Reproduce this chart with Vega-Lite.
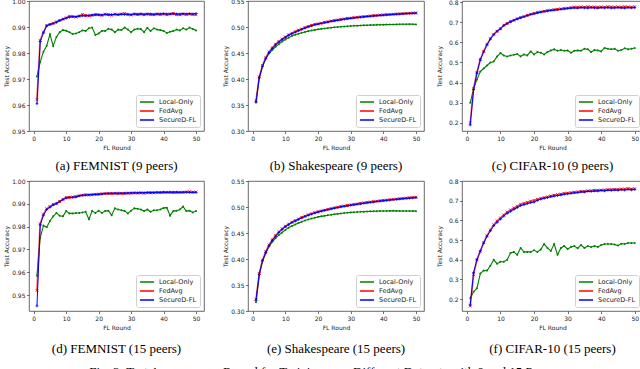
{
"$schema":"https://vega.github.io/schema/vega-lite/v6.json",
"padding":{"left":2,"top":-3,"right":0,"bottom":0},
"config":{
 "view":{"stroke":"#444","strokeWidth":0.8},
 "axis":{"labelFont":"DejaVu Sans","labelFontSize":6,"titleFont":"DejaVu Sans","titleFontSize":6,"titleFontWeight":"normal","tickSize":2.5,"tickWidth":0.7,"tickColor":"#333","labelColor":"#222","titleColor":"#222","domain":false,"grid":false,"labelPadding":1.5,"titlePadding":3},
 "axisY":{"minExtent":17,"maxExtent":17},
 "legend":{"orient":"bottom-right","offset":4,"fillColor":"white","strokeColor":"#d0d0d0","cornerRadius":2,"padding":3,"symbolType":"stroke","symbolSize":200,"symbolStrokeWidth":1.5,"labelFont":"DejaVu Sans","labelFontSize":6.5,"labelColor":"#222","rowPadding":1,"clipHeight":8,"labelOffset":4},
 "title":{"font":"Liberation Serif","fontSize":13,"fontWeight":"normal","color":"#000","orient":"bottom","offset":10,"anchor":"middle"}
},
"title":{"text":"Fig. 3: Test Accuracy per Round for Training over Different Datasets with 9 and 15 Peers.","orient":"bottom","offset":10,"fontSize":13},
"datasets":{
"a":[
{"s":"L","x":1,"y":0.971},{"s":"L","x":2,"y":0.9765},{"s":"L","x":3,"y":0.9805},{"s":"L","x":4,"y":0.9828},{"s":"L","x":5,"y":0.9872},{"s":"L","x":6,"y":0.9827},{"s":"L","x":7,"y":0.9862},{"s":"L","x":8,"y":0.988},{"s":"L","x":9,"y":0.9888},{"s":"L","x":10,"y":0.9886},
{"s":"L","x":11,"y":0.988},{"s":"L","x":12,"y":0.9873},{"s":"L","x":13,"y":0.9875},{"s":"L","x":14,"y":0.988},{"s":"L","x":15,"y":0.9887},{"s":"L","x":16,"y":0.9885},{"s":"L","x":17,"y":0.9895},{"s":"L","x":18,"y":0.9898},{"s":"L","x":19,"y":0.9869},{"s":"L","x":20,"y":0.9875},
{"s":"L","x":21,"y":0.9885},{"s":"L","x":22,"y":0.9885},{"s":"L","x":23,"y":0.9893},{"s":"L","x":24,"y":0.989},{"s":"L","x":25,"y":0.988},{"s":"L","x":26,"y":0.989},{"s":"L","x":27,"y":0.9888},{"s":"L","x":28,"y":0.9898},{"s":"L","x":29,"y":0.989},{"s":"L","x":30,"y":0.988},
{"s":"L","x":31,"y":0.989},{"s":"L","x":32,"y":0.9893},{"s":"L","x":33,"y":0.9892},{"s":"L","x":34,"y":0.988},{"s":"L","x":35,"y":0.9897},{"s":"L","x":36,"y":0.9885},{"s":"L","x":37,"y":0.9895},{"s":"L","x":38,"y":0.989},{"s":"L","x":39,"y":0.9888},{"s":"L","x":40,"y":0.9885},
{"s":"L","x":41,"y":0.9877},{"s":"L","x":42,"y":0.9882},{"s":"L","x":43,"y":0.9885},{"s":"L","x":44,"y":0.989},{"s":"L","x":45,"y":0.9887},{"s":"L","x":46,"y":0.9895},{"s":"L","x":47,"y":0.989},{"s":"L","x":48,"y":0.9898},{"s":"L","x":49,"y":0.9892},{"s":"L","x":50,"y":0.9887},
{"s":"F","x":1,"y":0.962},{"s":"F","x":2,"y":0.9848},{"s":"F","x":3,"y":0.988},{"s":"F","x":4,"y":0.9905},{"s":"F","x":5,"y":0.991},{"s":"F","x":6,"y":0.9915},{"s":"F","x":7,"y":0.992},{"s":"F","x":8,"y":0.9925},{"s":"F","x":9,"y":0.993},{"s":"F","x":10,"y":0.9935},
{"s":"F","x":11,"y":0.9942},{"s":"F","x":12,"y":0.994},{"s":"F","x":13,"y":0.9938},{"s":"F","x":14,"y":0.9942},{"s":"F","x":15,"y":0.9948},{"s":"F","x":16,"y":0.9945},{"s":"F","x":17,"y":0.9942},{"s":"F","x":18,"y":0.9945},{"s":"F","x":19,"y":0.9948},{"s":"F","x":20,"y":0.9947},
{"s":"F","x":21,"y":0.9945},{"s":"F","x":22,"y":0.995},{"s":"F","x":23,"y":0.9948},{"s":"F","x":24,"y":0.9945},{"s":"F","x":25,"y":0.995},{"s":"F","x":26,"y":0.9947},{"s":"F","x":27,"y":0.995},{"s":"F","x":28,"y":0.9952},{"s":"F","x":29,"y":0.9948},{"s":"F","x":30,"y":0.9946},
{"s":"F","x":31,"y":0.995},{"s":"F","x":32,"y":0.9948},{"s":"F","x":33,"y":0.995},{"s":"F","x":34,"y":0.9947},{"s":"F","x":35,"y":0.995},{"s":"F","x":36,"y":0.9948},{"s":"F","x":37,"y":0.9947},{"s":"F","x":38,"y":0.995},{"s":"F","x":39,"y":0.9948},{"s":"F","x":40,"y":0.995},
{"s":"F","x":41,"y":0.9947},{"s":"F","x":42,"y":0.995},{"s":"F","x":43,"y":0.9952},{"s":"F","x":44,"y":0.9948},{"s":"F","x":45,"y":0.9947},{"s":"F","x":46,"y":0.995},{"s":"F","x":47,"y":0.9948},{"s":"F","x":48,"y":0.995},{"s":"F","x":49,"y":0.9948},{"s":"F","x":50,"y":0.9947},
{"s":"S","x":1,"y":0.9605},{"s":"S","x":2,"y":0.9845},{"s":"S","x":3,"y":0.9878},{"s":"S","x":4,"y":0.9905},{"s":"S","x":5,"y":0.991},{"s":"S","x":6,"y":0.9913},{"s":"S","x":7,"y":0.9918},{"s":"S","x":8,"y":0.9925},{"s":"S","x":9,"y":0.993},{"s":"S","x":10,"y":0.9934},
{"s":"S","x":11,"y":0.9938},{"s":"S","x":12,"y":0.994},{"s":"S","x":13,"y":0.994},{"s":"S","x":14,"y":0.9942},{"s":"S","x":15,"y":0.9943},{"s":"S","x":16,"y":0.9943},{"s":"S","x":17,"y":0.9945},{"s":"S","x":18,"y":0.9946},{"s":"S","x":19,"y":0.9947},{"s":"S","x":20,"y":0.9947},
{"s":"S","x":21,"y":0.9946},{"s":"S","x":22,"y":0.9948},{"s":"S","x":23,"y":0.9947},{"s":"S","x":24,"y":0.9948},{"s":"S","x":25,"y":0.9948},{"s":"S","x":26,"y":0.9948},{"s":"S","x":27,"y":0.9949},{"s":"S","x":28,"y":0.9948},{"s":"S","x":29,"y":0.9949},{"s":"S","x":30,"y":0.9948},
{"s":"S","x":31,"y":0.995},{"s":"S","x":32,"y":0.9949},{"s":"S","x":33,"y":0.995},{"s":"S","x":34,"y":0.9949},{"s":"S","x":35,"y":0.995},{"s":"S","x":36,"y":0.995},{"s":"S","x":37,"y":0.9949},{"s":"S","x":38,"y":0.995},{"s":"S","x":39,"y":0.995},{"s":"S","x":40,"y":0.9951},
{"s":"S","x":41,"y":0.995},{"s":"S","x":42,"y":0.995},{"s":"S","x":43,"y":0.9951},{"s":"S","x":44,"y":0.995},{"s":"S","x":45,"y":0.995},{"s":"S","x":46,"y":0.9951},{"s":"S","x":47,"y":0.995},{"s":"S","x":48,"y":0.9951},{"s":"S","x":49,"y":0.995},{"s":"S","x":50,"y":0.9952}
],
"b":[
{"s":"L","x":1,"y":0.355},{"s":"L","x":2,"y":0.402},{"s":"L","x":3,"y":0.424},{"s":"L","x":4,"y":0.439},{"s":"L","x":5,"y":0.449},{"s":"L","x":6,"y":0.456},{"s":"L","x":7,"y":0.462},{"s":"L","x":8,"y":0.467},{"s":"L","x":9,"y":0.472},{"s":"L","x":10,"y":0.476},
{"s":"L","x":11,"y":0.4795},{"s":"L","x":12,"y":0.4825},{"s":"L","x":13,"y":0.485},{"s":"L","x":14,"y":0.4872},{"s":"L","x":15,"y":0.489},{"s":"L","x":16,"y":0.4905},{"s":"L","x":17,"y":0.492},{"s":"L","x":18,"y":0.4932},{"s":"L","x":19,"y":0.4944},{"s":"L","x":20,"y":0.4955},
{"s":"L","x":21,"y":0.4964},{"s":"L","x":22,"y":0.4972},{"s":"L","x":23,"y":0.498},{"s":"L","x":24,"y":0.4987},{"s":"L","x":25,"y":0.4994},{"s":"L","x":26,"y":0.5},{"s":"L","x":27,"y":0.5005},{"s":"L","x":28,"y":0.501},{"s":"L","x":29,"y":0.5015},{"s":"L","x":30,"y":0.502},
{"s":"L","x":31,"y":0.5023},{"s":"L","x":32,"y":0.5026},{"s":"L","x":33,"y":0.5029},{"s":"L","x":34,"y":0.5032},{"s":"L","x":35,"y":0.5035},{"s":"L","x":36,"y":0.5037},{"s":"L","x":37,"y":0.5039},{"s":"L","x":38,"y":0.5041},{"s":"L","x":39,"y":0.5043},{"s":"L","x":40,"y":0.5045},
{"s":"L","x":41,"y":0.5046},{"s":"L","x":42,"y":0.5048},{"s":"L","x":43,"y":0.5049},{"s":"L","x":44,"y":0.505},{"s":"L","x":45,"y":0.5052},{"s":"L","x":46,"y":0.5053},{"s":"L","x":47,"y":0.5054},{"s":"L","x":48,"y":0.5055},{"s":"L","x":49,"y":0.5052},{"s":"L","x":50,"y":0.505},
{"s":"F","x":1,"y":0.358},{"s":"F","x":2,"y":0.404},{"s":"F","x":3,"y":0.426},{"s":"F","x":4,"y":0.441},{"s":"F","x":5,"y":0.452},{"s":"F","x":6,"y":0.46},{"s":"F","x":7,"y":0.467},{"s":"F","x":8,"y":0.472},{"s":"F","x":9,"y":0.477},{"s":"F","x":10,"y":0.481},
{"s":"F","x":11,"y":0.485},{"s":"F","x":12,"y":0.488},{"s":"F","x":13,"y":0.491},{"s":"F","x":14,"y":0.494},{"s":"F","x":15,"y":0.496},{"s":"F","x":16,"y":0.499},{"s":"F","x":17,"y":0.501},{"s":"F","x":18,"y":0.503},{"s":"F","x":19,"y":0.505},{"s":"F","x":20,"y":0.506},
{"s":"F","x":21,"y":0.5075},{"s":"F","x":22,"y":0.509},{"s":"F","x":23,"y":0.51},{"s":"F","x":24,"y":0.5115},{"s":"F","x":25,"y":0.5125},{"s":"F","x":26,"y":0.5135},{"s":"F","x":27,"y":0.5145},{"s":"F","x":28,"y":0.5155},{"s":"F","x":29,"y":0.5165},{"s":"F","x":30,"y":0.5172},
{"s":"F","x":31,"y":0.518},{"s":"F","x":32,"y":0.5187},{"s":"F","x":33,"y":0.5194},{"s":"F","x":34,"y":0.52},{"s":"F","x":35,"y":0.5206},{"s":"F","x":36,"y":0.5212},{"s":"F","x":37,"y":0.5218},{"s":"F","x":38,"y":0.5223},{"s":"F","x":39,"y":0.5228},{"s":"F","x":40,"y":0.5233},
{"s":"F","x":41,"y":0.5238},{"s":"F","x":42,"y":0.5242},{"s":"F","x":43,"y":0.5246},{"s":"F","x":44,"y":0.525},{"s":"F","x":45,"y":0.5254},{"s":"F","x":46,"y":0.5258},{"s":"F","x":47,"y":0.5262},{"s":"F","x":48,"y":0.5265},{"s":"F","x":49,"y":0.5268},{"s":"F","x":50,"y":0.527},
{"s":"S","x":1,"y":0.356},{"s":"S","x":2,"y":0.403},{"s":"S","x":3,"y":0.425},{"s":"S","x":4,"y":0.44},{"s":"S","x":5,"y":0.451},{"s":"S","x":6,"y":0.459},{"s":"S","x":7,"y":0.466},{"s":"S","x":8,"y":0.471},{"s":"S","x":9,"y":0.476},{"s":"S","x":10,"y":0.48},
{"s":"S","x":11,"y":0.484},{"s":"S","x":12,"y":0.487},{"s":"S","x":13,"y":0.49},{"s":"S","x":14,"y":0.493},{"s":"S","x":15,"y":0.4955},{"s":"S","x":16,"y":0.498},{"s":"S","x":17,"y":0.5005},{"s":"S","x":18,"y":0.5025},{"s":"S","x":19,"y":0.5045},{"s":"S","x":20,"y":0.5057},
{"s":"S","x":21,"y":0.507},{"s":"S","x":22,"y":0.5085},{"s":"S","x":23,"y":0.5096},{"s":"S","x":24,"y":0.511},{"s":"S","x":25,"y":0.512},{"s":"S","x":26,"y":0.513},{"s":"S","x":27,"y":0.514},{"s":"S","x":28,"y":0.515},{"s":"S","x":29,"y":0.516},{"s":"S","x":30,"y":0.5168},
{"s":"S","x":31,"y":0.5176},{"s":"S","x":32,"y":0.5183},{"s":"S","x":33,"y":0.519},{"s":"S","x":34,"y":0.5196},{"s":"S","x":35,"y":0.5202},{"s":"S","x":36,"y":0.5208},{"s":"S","x":37,"y":0.5214},{"s":"S","x":38,"y":0.5219},{"s":"S","x":39,"y":0.5224},{"s":"S","x":40,"y":0.5229},
{"s":"S","x":41,"y":0.5234},{"s":"S","x":42,"y":0.5238},{"s":"S","x":43,"y":0.5242},{"s":"S","x":44,"y":0.5246},{"s":"S","x":45,"y":0.525},{"s":"S","x":46,"y":0.5254},{"s":"S","x":47,"y":0.5258},{"s":"S","x":48,"y":0.5261},{"s":"S","x":49,"y":0.5264},{"s":"S","x":50,"y":0.5267}
],
"c":[
{"s":"L","x":1,"y":0.3},{"s":"L","x":2,"y":0.37},{"s":"L","x":3,"y":0.415},{"s":"L","x":4,"y":0.455},{"s":"L","x":5,"y":0.47},{"s":"L","x":6,"y":0.485},{"s":"L","x":7,"y":0.5},{"s":"L","x":8,"y":0.505},{"s":"L","x":9,"y":0.53},{"s":"L","x":10,"y":0.547},
{"s":"L","x":11,"y":0.535},{"s":"L","x":12,"y":0.53},{"s":"L","x":13,"y":0.535},{"s":"L","x":14,"y":0.538},{"s":"L","x":15,"y":0.542},{"s":"L","x":16,"y":0.53},{"s":"L","x":17,"y":0.54},{"s":"L","x":18,"y":0.535},{"s":"L","x":19,"y":0.555},{"s":"L","x":20,"y":0.54},
{"s":"L","x":21,"y":0.552},{"s":"L","x":22,"y":0.548},{"s":"L","x":23,"y":0.54},{"s":"L","x":24,"y":0.552},{"s":"L","x":25,"y":0.56},{"s":"L","x":26,"y":0.565},{"s":"L","x":27,"y":0.558},{"s":"L","x":28,"y":0.562},{"s":"L","x":29,"y":0.558},{"s":"L","x":30,"y":0.56},
{"s":"L","x":31,"y":0.548},{"s":"L","x":32,"y":0.558},{"s":"L","x":33,"y":0.56},{"s":"L","x":34,"y":0.558},{"s":"L","x":35,"y":0.568},{"s":"L","x":36,"y":0.565},{"s":"L","x":37,"y":0.552},{"s":"L","x":38,"y":0.562},{"s":"L","x":39,"y":0.56},{"s":"L","x":40,"y":0.555},
{"s":"L","x":41,"y":0.572},{"s":"L","x":42,"y":0.568},{"s":"L","x":43,"y":0.565},{"s":"L","x":44,"y":0.568},{"s":"L","x":45,"y":0.558},{"s":"L","x":46,"y":0.562},{"s":"L","x":47,"y":0.57},{"s":"L","x":48,"y":0.566},{"s":"L","x":49,"y":0.568},{"s":"L","x":50,"y":0.572},
{"s":"F","x":1,"y":0.2},{"s":"F","x":2,"y":0.37},{"s":"F","x":3,"y":0.45},{"s":"F","x":4,"y":0.515},{"s":"F","x":5,"y":0.555},{"s":"F","x":6,"y":0.59},{"s":"F","x":7,"y":0.618},{"s":"F","x":8,"y":0.64},{"s":"F","x":9,"y":0.655},{"s":"F","x":10,"y":0.668},
{"s":"F","x":11,"y":0.685},{"s":"F","x":12,"y":0.694},{"s":"F","x":13,"y":0.703},{"s":"F","x":14,"y":0.71},{"s":"F","x":15,"y":0.717},{"s":"F","x":16,"y":0.723},{"s":"F","x":17,"y":0.728},{"s":"F","x":18,"y":0.734},{"s":"F","x":19,"y":0.74},{"s":"F","x":20,"y":0.744},
{"s":"F","x":21,"y":0.748},{"s":"F","x":22,"y":0.751},{"s":"F","x":23,"y":0.754},{"s":"F","x":24,"y":0.757},{"s":"F","x":25,"y":0.76},{"s":"F","x":26,"y":0.762},{"s":"F","x":27,"y":0.764},{"s":"F","x":28,"y":0.766},{"s":"F","x":29,"y":0.768},{"s":"F","x":30,"y":0.77},
{"s":"F","x":31,"y":0.772},{"s":"F","x":32,"y":0.775},{"s":"F","x":33,"y":0.774},{"s":"F","x":34,"y":0.776},{"s":"F","x":35,"y":0.775},{"s":"F","x":36,"y":0.777},{"s":"F","x":37,"y":0.775},{"s":"F","x":38,"y":0.776},{"s":"F","x":39,"y":0.774},{"s":"F","x":40,"y":0.776},
{"s":"F","x":41,"y":0.775},{"s":"F","x":42,"y":0.777},{"s":"F","x":43,"y":0.776},{"s":"F","x":44,"y":0.775},{"s":"F","x":45,"y":0.776},{"s":"F","x":46,"y":0.775},{"s":"F","x":47,"y":0.777},{"s":"F","x":48,"y":0.776},{"s":"F","x":49,"y":0.775},{"s":"F","x":50,"y":0.777},
{"s":"S","x":1,"y":0.19},{"s":"S","x":2,"y":0.365},{"s":"S","x":3,"y":0.448},{"s":"S","x":4,"y":0.513},{"s":"S","x":5,"y":0.553},{"s":"S","x":6,"y":0.588},{"s":"S","x":7,"y":0.617},{"s":"S","x":8,"y":0.638},{"s":"S","x":9,"y":0.655},{"s":"S","x":10,"y":0.667},
{"s":"S","x":11,"y":0.683},{"s":"S","x":12,"y":0.693},{"s":"S","x":13,"y":0.702},{"s":"S","x":14,"y":0.709},{"s":"S","x":15,"y":0.716},{"s":"S","x":16,"y":0.722},{"s":"S","x":17,"y":0.727},{"s":"S","x":18,"y":0.733},{"s":"S","x":19,"y":0.738},{"s":"S","x":20,"y":0.742},
{"s":"S","x":21,"y":0.746},{"s":"S","x":22,"y":0.75},{"s":"S","x":23,"y":0.753},{"s":"S","x":24,"y":0.756},{"s":"S","x":25,"y":0.758},{"s":"S","x":26,"y":0.76},{"s":"S","x":27,"y":0.762},{"s":"S","x":28,"y":0.764},{"s":"S","x":29,"y":0.766},{"s":"S","x":30,"y":0.768},
{"s":"S","x":31,"y":0.77},{"s":"S","x":32,"y":0.771},{"s":"S","x":33,"y":0.77},{"s":"S","x":34,"y":0.772},{"s":"S","x":35,"y":0.771},{"s":"S","x":36,"y":0.77},{"s":"S","x":37,"y":0.772},{"s":"S","x":38,"y":0.771},{"s":"S","x":39,"y":0.77},{"s":"S","x":40,"y":0.772},
{"s":"S","x":41,"y":0.771},{"s":"S","x":42,"y":0.772},{"s":"S","x":43,"y":0.77},{"s":"S","x":44,"y":0.771},{"s":"S","x":45,"y":0.772},{"s":"S","x":46,"y":0.771},{"s":"S","x":47,"y":0.77},{"s":"S","x":48,"y":0.772},{"s":"S","x":49,"y":0.771},{"s":"S","x":50,"y":0.772}
],
"d":[
{"s":"L","x":1,"y":0.9585},{"s":"L","x":2,"y":0.975},{"s":"L","x":3,"y":0.9805},{"s":"L","x":4,"y":0.9797},{"s":"L","x":5,"y":0.9825},{"s":"L","x":6,"y":0.9845},{"s":"L","x":7,"y":0.986},{"s":"L","x":8,"y":0.9848},{"s":"L","x":9,"y":0.9845},{"s":"L","x":10,"y":0.9868},
{"s":"L","x":11,"y":0.9858},{"s":"L","x":12,"y":0.9858},{"s":"L","x":13,"y":0.986},{"s":"L","x":14,"y":0.986},{"s":"L","x":15,"y":0.9862},{"s":"L","x":16,"y":0.9865},{"s":"L","x":17,"y":0.9832},{"s":"L","x":18,"y":0.9868},{"s":"L","x":19,"y":0.986},{"s":"L","x":20,"y":0.987},
{"s":"L","x":21,"y":0.986},{"s":"L","x":22,"y":0.9868},{"s":"L","x":23,"y":0.987},{"s":"L","x":24,"y":0.985},{"s":"L","x":25,"y":0.988},{"s":"L","x":26,"y":0.9875},{"s":"L","x":27,"y":0.9872},{"s":"L","x":28,"y":0.9868},{"s":"L","x":29,"y":0.9858},{"s":"L","x":30,"y":0.987},
{"s":"L","x":31,"y":0.988},{"s":"L","x":32,"y":0.9878},{"s":"L","x":33,"y":0.9875},{"s":"L","x":34,"y":0.9868},{"s":"L","x":35,"y":0.9875},{"s":"L","x":36,"y":0.9865},{"s":"L","x":37,"y":0.9872},{"s":"L","x":38,"y":0.9872},{"s":"L","x":39,"y":0.9875},{"s":"L","x":40,"y":0.9882},
{"s":"L","x":41,"y":0.9883},{"s":"L","x":42,"y":0.9848},{"s":"L","x":43,"y":0.9868},{"s":"L","x":44,"y":0.987},{"s":"L","x":45,"y":0.9875},{"s":"L","x":46,"y":0.9888},{"s":"L","x":47,"y":0.9868},{"s":"L","x":48,"y":0.987},{"s":"L","x":49,"y":0.9862},{"s":"L","x":50,"y":0.9868},
{"s":"F","x":1,"y":0.952},{"s":"F","x":2,"y":0.9812},{"s":"F","x":3,"y":0.9855},{"s":"F","x":4,"y":0.9878},{"s":"F","x":5,"y":0.9888},{"s":"F","x":6,"y":0.9898},{"s":"F","x":7,"y":0.99},{"s":"F","x":8,"y":0.991},{"s":"F","x":9,"y":0.992},{"s":"F","x":10,"y":0.9928},
{"s":"F","x":11,"y":0.9928},{"s":"F","x":12,"y":0.993},{"s":"F","x":13,"y":0.9932},{"s":"F","x":14,"y":0.9935},{"s":"F","x":15,"y":0.9938},{"s":"F","x":16,"y":0.994},{"s":"F","x":17,"y":0.9938},{"s":"F","x":18,"y":0.994},{"s":"F","x":19,"y":0.9942},{"s":"F","x":20,"y":0.9942},
{"s":"F","x":21,"y":0.9944},{"s":"F","x":22,"y":0.9945},{"s":"F","x":23,"y":0.9946},{"s":"F","x":24,"y":0.9945},{"s":"F","x":25,"y":0.9946},{"s":"F","x":26,"y":0.9944},{"s":"F","x":27,"y":0.9946},{"s":"F","x":28,"y":0.9945},{"s":"F","x":29,"y":0.9947},{"s":"F","x":30,"y":0.9946},
{"s":"F","x":31,"y":0.9948},{"s":"F","x":32,"y":0.9947},{"s":"F","x":33,"y":0.9948},{"s":"F","x":34,"y":0.9946},{"s":"F","x":35,"y":0.9948},{"s":"F","x":36,"y":0.9949},{"s":"F","x":37,"y":0.9948},{"s":"F","x":38,"y":0.995},{"s":"F","x":39,"y":0.9949},{"s":"F","x":40,"y":0.995},
{"s":"F","x":41,"y":0.9951},{"s":"F","x":42,"y":0.995},{"s":"F","x":43,"y":0.9949},{"s":"F","x":44,"y":0.995},{"s":"F","x":45,"y":0.9951},{"s":"F","x":46,"y":0.995},{"s":"F","x":47,"y":0.9952},{"s":"F","x":48,"y":0.9953},{"s":"F","x":49,"y":0.9951},{"s":"F","x":50,"y":0.9952},
{"s":"S","x":1,"y":0.9452},{"s":"S","x":2,"y":0.9808},{"s":"S","x":3,"y":0.985},{"s":"S","x":4,"y":0.9875},{"s":"S","x":5,"y":0.9885},{"s":"S","x":6,"y":0.9895},{"s":"S","x":7,"y":0.9902},{"s":"S","x":8,"y":0.991},{"s":"S","x":9,"y":0.9918},{"s":"S","x":10,"y":0.9925},
{"s":"S","x":11,"y":0.9928},{"s":"S","x":12,"y":0.9928},{"s":"S","x":13,"y":0.993},{"s":"S","x":14,"y":0.9935},{"s":"S","x":15,"y":0.9937},{"s":"S","x":16,"y":0.9938},{"s":"S","x":17,"y":0.994},{"s":"S","x":18,"y":0.994},{"s":"S","x":19,"y":0.9941},{"s":"S","x":20,"y":0.9942},
{"s":"S","x":21,"y":0.9943},{"s":"S","x":22,"y":0.9945},{"s":"S","x":23,"y":0.9945},{"s":"S","x":24,"y":0.9946},{"s":"S","x":25,"y":0.9946},{"s":"S","x":26,"y":0.9947},{"s":"S","x":27,"y":0.9946},{"s":"S","x":28,"y":0.9947},{"s":"S","x":29,"y":0.9947},{"s":"S","x":30,"y":0.9948},
{"s":"S","x":31,"y":0.9948},{"s":"S","x":32,"y":0.9948},{"s":"S","x":33,"y":0.9949},{"s":"S","x":34,"y":0.9949},{"s":"S","x":35,"y":0.995},{"s":"S","x":36,"y":0.9949},{"s":"S","x":37,"y":0.995},{"s":"S","x":38,"y":0.995},{"s":"S","x":39,"y":0.995},{"s":"S","x":40,"y":0.9951},
{"s":"S","x":41,"y":0.995},{"s":"S","x":42,"y":0.9951},{"s":"S","x":43,"y":0.9951},{"s":"S","x":44,"y":0.9951},{"s":"S","x":45,"y":0.995},{"s":"S","x":46,"y":0.9951},{"s":"S","x":47,"y":0.9951},{"s":"S","x":48,"y":0.995},{"s":"S","x":49,"y":0.995},{"s":"S","x":50,"y":0.995}
],
"e":[
{"s":"L","x":1,"y":0.317},{"s":"L","x":2,"y":0.37},{"s":"L","x":3,"y":0.396},{"s":"L","x":4,"y":0.411},{"s":"L","x":5,"y":0.424},{"s":"L","x":6,"y":0.433},{"s":"L","x":7,"y":0.44},{"s":"L","x":8,"y":0.446},{"s":"L","x":9,"y":0.451},{"s":"L","x":10,"y":0.456},
{"s":"L","x":11,"y":0.46},{"s":"L","x":12,"y":0.4635},{"s":"L","x":13,"y":0.4665},{"s":"L","x":14,"y":0.469},{"s":"L","x":15,"y":0.4715},{"s":"L","x":16,"y":0.474},{"s":"L","x":17,"y":0.476},{"s":"L","x":18,"y":0.478},{"s":"L","x":19,"y":0.4795},{"s":"L","x":20,"y":0.481},
{"s":"L","x":21,"y":0.482},{"s":"L","x":22,"y":0.483},{"s":"L","x":23,"y":0.484},{"s":"L","x":24,"y":0.485},{"s":"L","x":25,"y":0.486},{"s":"L","x":26,"y":0.4868},{"s":"L","x":27,"y":0.4876},{"s":"L","x":28,"y":0.4884},{"s":"L","x":29,"y":0.489},{"s":"L","x":30,"y":0.4896},
{"s":"L","x":31,"y":0.49},{"s":"L","x":32,"y":0.4904},{"s":"L","x":33,"y":0.4908},{"s":"L","x":34,"y":0.4911},{"s":"L","x":35,"y":0.4914},{"s":"L","x":36,"y":0.4916},{"s":"L","x":37,"y":0.4918},{"s":"L","x":38,"y":0.492},{"s":"L","x":39,"y":0.4922},{"s":"L","x":40,"y":0.4923},
{"s":"L","x":41,"y":0.4924},{"s":"L","x":42,"y":0.4925},{"s":"L","x":43,"y":0.4926},{"s":"L","x":44,"y":0.4925},{"s":"L","x":45,"y":0.4924},{"s":"L","x":46,"y":0.4924},{"s":"L","x":47,"y":0.4923},{"s":"L","x":48,"y":0.4922},{"s":"L","x":49,"y":0.4921},{"s":"L","x":50,"y":0.492},
{"s":"F","x":1,"y":0.322},{"s":"F","x":2,"y":0.372},{"s":"F","x":3,"y":0.398},{"s":"F","x":4,"y":0.414},{"s":"F","x":5,"y":0.427},{"s":"F","x":6,"y":0.437},{"s":"F","x":7,"y":0.445},{"s":"F","x":8,"y":0.452},{"s":"F","x":9,"y":0.458},{"s":"F","x":10,"y":0.463},
{"s":"F","x":11,"y":0.467},{"s":"F","x":12,"y":0.471},{"s":"F","x":13,"y":0.474},{"s":"F","x":14,"y":0.477},{"s":"F","x":15,"y":0.48},{"s":"F","x":16,"y":0.4825},{"s":"F","x":17,"y":0.485},{"s":"F","x":18,"y":0.487},{"s":"F","x":19,"y":0.489},{"s":"F","x":20,"y":0.491},
{"s":"F","x":21,"y":0.4925},{"s":"F","x":22,"y":0.494},{"s":"F","x":23,"y":0.4955},{"s":"F","x":24,"y":0.497},{"s":"F","x":25,"y":0.4985},{"s":"F","x":26,"y":0.4997},{"s":"F","x":27,"y":0.501},{"s":"F","x":28,"y":0.502},{"s":"F","x":29,"y":0.503},{"s":"F","x":30,"y":0.504},
{"s":"F","x":31,"y":0.505},{"s":"F","x":32,"y":0.506},{"s":"F","x":33,"y":0.507},{"s":"F","x":34,"y":0.508},{"s":"F","x":35,"y":0.509},{"s":"F","x":36,"y":0.5097},{"s":"F","x":37,"y":0.5105},{"s":"F","x":38,"y":0.5112},{"s":"F","x":39,"y":0.512},{"s":"F","x":40,"y":0.5127},
{"s":"F","x":41,"y":0.5134},{"s":"F","x":42,"y":0.514},{"s":"F","x":43,"y":0.5147},{"s":"F","x":44,"y":0.5153},{"s":"F","x":45,"y":0.516},{"s":"F","x":46,"y":0.5166},{"s":"F","x":47,"y":0.5172},{"s":"F","x":48,"y":0.5178},{"s":"F","x":49,"y":0.5183},{"s":"F","x":50,"y":0.519},
{"s":"S","x":1,"y":0.321},{"s":"S","x":2,"y":0.371},{"s":"S","x":3,"y":0.397},{"s":"S","x":4,"y":0.413},{"s":"S","x":5,"y":0.426},{"s":"S","x":6,"y":0.436},{"s":"S","x":7,"y":0.444},{"s":"S","x":8,"y":0.451},{"s":"S","x":9,"y":0.457},{"s":"S","x":10,"y":0.462},
{"s":"S","x":11,"y":0.466},{"s":"S","x":12,"y":0.47},{"s":"S","x":13,"y":0.473},{"s":"S","x":14,"y":0.476},{"s":"S","x":15,"y":0.479},{"s":"S","x":16,"y":0.4817},{"s":"S","x":17,"y":0.4842},{"s":"S","x":18,"y":0.4864},{"s":"S","x":19,"y":0.4884},{"s":"S","x":20,"y":0.4903},
{"s":"S","x":21,"y":0.492},{"s":"S","x":22,"y":0.4935},{"s":"S","x":23,"y":0.495},{"s":"S","x":24,"y":0.4964},{"s":"S","x":25,"y":0.4978},{"s":"S","x":26,"y":0.499},{"s":"S","x":27,"y":0.5002},{"s":"S","x":28,"y":0.5013},{"s":"S","x":29,"y":0.5024},{"s":"S","x":30,"y":0.5034},
{"s":"S","x":31,"y":0.5044},{"s":"S","x":32,"y":0.5054},{"s":"S","x":33,"y":0.5063},{"s":"S","x":34,"y":0.5072},{"s":"S","x":35,"y":0.5081},{"s":"S","x":36,"y":0.509},{"s":"S","x":37,"y":0.5098},{"s":"S","x":38,"y":0.5106},{"s":"S","x":39,"y":0.5114},{"s":"S","x":40,"y":0.5121},
{"s":"S","x":41,"y":0.5128},{"s":"S","x":42,"y":0.5135},{"s":"S","x":43,"y":0.5142},{"s":"S","x":44,"y":0.5148},{"s":"S","x":45,"y":0.5154},{"s":"S","x":46,"y":0.516},{"s":"S","x":47,"y":0.5166},{"s":"S","x":48,"y":0.5171},{"s":"S","x":49,"y":0.5176},{"s":"S","x":50,"y":0.518}
],
"f":[
{"s":"L","x":1,"y":0.205},{"s":"L","x":2,"y":0.238},{"s":"L","x":3,"y":0.256},{"s":"L","x":4,"y":0.33},{"s":"L","x":5,"y":0.345},{"s":"L","x":6,"y":0.345},{"s":"L","x":7,"y":0.37},{"s":"L","x":8,"y":0.4},{"s":"L","x":9,"y":0.38},{"s":"L","x":10,"y":0.39},
{"s":"L","x":11,"y":0.39},{"s":"L","x":12,"y":0.4},{"s":"L","x":13,"y":0.435},{"s":"L","x":14,"y":0.44},{"s":"L","x":15,"y":0.425},{"s":"L","x":16,"y":0.46},{"s":"L","x":17,"y":0.44},{"s":"L","x":18,"y":0.44},{"s":"L","x":19,"y":0.44},{"s":"L","x":20,"y":0.448},
{"s":"L","x":21,"y":0.44},{"s":"L","x":22,"y":0.452},{"s":"L","x":23,"y":0.48},{"s":"L","x":24,"y":0.46},{"s":"L","x":25,"y":0.445},{"s":"L","x":26,"y":0.48},{"s":"L","x":27,"y":0.425},{"s":"L","x":28,"y":0.46},{"s":"L","x":29,"y":0.47},{"s":"L","x":30,"y":0.455},
{"s":"L","x":31,"y":0.465},{"s":"L","x":32,"y":0.47},{"s":"L","x":33,"y":0.458},{"s":"L","x":34,"y":0.475},{"s":"L","x":35,"y":0.46},{"s":"L","x":36,"y":0.47},{"s":"L","x":37,"y":0.465},{"s":"L","x":38,"y":0.47},{"s":"L","x":39,"y":0.465},{"s":"L","x":40,"y":0.475},
{"s":"L","x":41,"y":0.48},{"s":"L","x":42,"y":0.48},{"s":"L","x":43,"y":0.48},{"s":"L","x":44,"y":0.478},{"s":"L","x":45,"y":0.472},{"s":"L","x":46,"y":0.482},{"s":"L","x":47,"y":0.48},{"s":"L","x":48,"y":0.485},{"s":"L","x":49,"y":0.485},{"s":"L","x":50,"y":0.485},
{"s":"F","x":1,"y":0.165},{"s":"F","x":2,"y":0.325},{"s":"F","x":3,"y":0.4},{"s":"F","x":4,"y":0.443},{"s":"F","x":5,"y":0.487},{"s":"F","x":6,"y":0.522},{"s":"F","x":7,"y":0.552},{"s":"F","x":8,"y":0.578},{"s":"F","x":9,"y":0.597},{"s":"F","x":10,"y":0.613},
{"s":"F","x":11,"y":0.628},{"s":"F","x":12,"y":0.642},{"s":"F","x":13,"y":0.653},{"s":"F","x":14,"y":0.663},{"s":"F","x":15,"y":0.672},{"s":"F","x":16,"y":0.682},{"s":"F","x":17,"y":0.687},{"s":"F","x":18,"y":0.692},{"s":"F","x":19,"y":0.698},{"s":"F","x":20,"y":0.702},
{"s":"F","x":21,"y":0.707},{"s":"F","x":22,"y":0.712},{"s":"F","x":23,"y":0.716},{"s":"F","x":24,"y":0.72},{"s":"F","x":25,"y":0.724},{"s":"F","x":26,"y":0.728},{"s":"F","x":27,"y":0.731},{"s":"F","x":28,"y":0.734},{"s":"F","x":29,"y":0.737},{"s":"F","x":30,"y":0.739},
{"s":"F","x":31,"y":0.741},{"s":"F","x":32,"y":0.743},{"s":"F","x":33,"y":0.745},{"s":"F","x":34,"y":0.747},{"s":"F","x":35,"y":0.748},{"s":"F","x":36,"y":0.75},{"s":"F","x":37,"y":0.751},{"s":"F","x":38,"y":0.752},{"s":"F","x":39,"y":0.753},{"s":"F","x":40,"y":0.754},
{"s":"F","x":41,"y":0.755},{"s":"F","x":42,"y":0.756},{"s":"F","x":43,"y":0.757},{"s":"F","x":44,"y":0.757},{"s":"F","x":45,"y":0.758},{"s":"F","x":46,"y":0.759},{"s":"F","x":47,"y":0.76},{"s":"F","x":48,"y":0.762},{"s":"F","x":49,"y":0.76},{"s":"F","x":50,"y":0.761},
{"s":"S","x":1,"y":0.17},{"s":"S","x":2,"y":0.335},{"s":"S","x":3,"y":0.4},{"s":"S","x":4,"y":0.445},{"s":"S","x":5,"y":0.485},{"s":"S","x":6,"y":0.52},{"s":"S","x":7,"y":0.548},{"s":"S","x":8,"y":0.573},{"s":"S","x":9,"y":0.59},{"s":"S","x":10,"y":0.607},
{"s":"S","x":11,"y":0.622},{"s":"S","x":12,"y":0.636},{"s":"S","x":13,"y":0.646},{"s":"S","x":14,"y":0.656},{"s":"S","x":15,"y":0.665},{"s":"S","x":16,"y":0.675},{"s":"S","x":17,"y":0.68},{"s":"S","x":18,"y":0.685},{"s":"S","x":19,"y":0.69},{"s":"S","x":20,"y":0.693},
{"s":"S","x":21,"y":0.702},{"s":"S","x":22,"y":0.708},{"s":"S","x":23,"y":0.712},{"s":"S","x":24,"y":0.716},{"s":"S","x":25,"y":0.72},{"s":"S","x":26,"y":0.724},{"s":"S","x":27,"y":0.726},{"s":"S","x":28,"y":0.729},{"s":"S","x":29,"y":0.733},{"s":"S","x":30,"y":0.735},
{"s":"S","x":31,"y":0.737},{"s":"S","x":32,"y":0.74},{"s":"S","x":33,"y":0.741},{"s":"S","x":34,"y":0.745},{"s":"S","x":35,"y":0.744},{"s":"S","x":36,"y":0.748},{"s":"S","x":37,"y":0.747},{"s":"S","x":38,"y":0.75},{"s":"S","x":39,"y":0.749},{"s":"S","x":40,"y":0.752},
{"s":"S","x":41,"y":0.75},{"s":"S","x":42,"y":0.754},{"s":"S","x":43,"y":0.752},{"s":"S","x":44,"y":0.755},{"s":"S","x":45,"y":0.753},{"s":"S","x":46,"y":0.756},{"s":"S","x":47,"y":0.754},{"s":"S","x":48,"y":0.757},{"s":"S","x":49,"y":0.755},{"s":"S","x":50,"y":0.757}
]
},
"spacing":3,
"resolve":{"scale":{"color":"independent"},"legend":{"color":"independent"}},
"vconcat":[
{"spacing":16,
 "resolve":{"scale":{"color":"independent"},"legend":{"color":"independent"}},
 "hconcat":[
 {"data":{"name":"a"},"width":175,"height":130,"title":{"text":"(a) FEMNIST (9 peers)"},
  "encoding":{
   "x":{"field":"x","type":"quantitative","scale":{"domain":[-1.45,52.45],"nice":false,"zero":false},"axis":{"values":[0,10,20,30,40,50],"title":"FL Round"}},
   "y":{"field":"y","type":"quantitative","scale":{"domain":[0.95,1],"nice":false,"zero":false},"axis":{"values":[0.95,0.96,0.97,0.98,0.99,1],"format":".2f","title":"Test Accuracy"}},
   "color":{"field":"s","type":"nominal","scale":{"domain":["L","F","S"],"range":["#008000","#ff0000","#0000ff"]},"legend":{"title":null,"symbolType":"stroke","labelExpr":"datum.label == 'L' ? 'Local-Only' : datum.label == 'F' ? 'FedAvg' : 'SecureD-FL'"}}
  },
  "layer":[
   {"transform":[{"filter":"datum.s == 'L'"}],"mark":{"type":"line","strokeWidth":1.1,"clip":true,"point":{"shape":"circle","size":4,"filled":true}}},
   {"transform":[{"filter":"datum.s == 'F'"}],"mark":{"type":"line","strokeWidth":1.8,"opacity":0.6,"clip":true,"point":{"shape":"M-1,-1L1,1M1,-1L-1,1","size":8,"filled":false,"strokeWidth":0.8}}},
   {"transform":[{"filter":"datum.s == 'S'"}],"mark":{"type":"line","strokeWidth":1,"clip":true,"point":{"shape":"M-1,0L1,0M0,-1L0,1","size":8,"filled":false,"strokeWidth":0.8}}}
  ]},
 {"spacing":10,
  "resolve":{"scale":{"color":"independent"},"legend":{"color":"independent"}},
  "hconcat":[
  {"data":{"name":"b"},"width":176,"height":130,"title":{"text":"(b) Shakespeare (9 peers)"},
   "encoding":{
    "x":{"field":"x","type":"quantitative","scale":{"domain":[-1.45,52.45],"nice":false,"zero":false},"axis":{"values":[0,10,20,30,40,50],"title":"FL Round"}},
    "y":{"field":"y","type":"quantitative","scale":{"domain":[0.3,0.55],"nice":false,"zero":false},"axis":{"values":[0.3,0.35,0.4,0.45,0.5,0.55],"format":".2f","title":"Test Accuracy"}},
    "color":{"field":"s","type":"nominal","scale":{"domain":["L","F","S"],"range":["#008000","#ff0000","#0000ff"]},"legend":{"title":null,"symbolType":"stroke","labelExpr":"datum.label == 'L' ? 'Local-Only' : datum.label == 'F' ? 'FedAvg' : 'SecureD-FL'"}}
   },
   "layer":[
    {"transform":[{"filter":"datum.s == 'L'"}],"mark":{"type":"line","strokeWidth":1.1,"clip":true,"point":{"shape":"circle","size":4,"filled":true}}},
    {"transform":[{"filter":"datum.s == 'F'"}],"mark":{"type":"line","strokeWidth":1.8,"opacity":0.6,"clip":true,"point":{"shape":"M-1,-1L1,1M1,-1L-1,1","size":8,"filled":false,"strokeWidth":0.8}}},
    {"transform":[{"filter":"datum.s == 'S'"}],"mark":{"type":"line","strokeWidth":1,"clip":true,"point":{"shape":"M-1,0L1,0M0,-1L0,1","size":8,"filled":false,"strokeWidth":0.8}}}
   ]},
  {"data":{"name":"c"},"width":181,"height":130,"title":{"text":"(c) CIFAR-10 (9 peers)"},
   "encoding":{
    "x":{"field":"x","type":"quantitative","scale":{"domain":[-1.45,52.45],"nice":false,"zero":false},"axis":{"values":[0,10,20,30,40,50],"title":"FL Round"}},
    "y":{"field":"y","type":"quantitative","scale":{"domain":[0.16,0.805],"nice":false,"zero":false},"axis":{"values":[0.2,0.3,0.4,0.5,0.6,0.7,0.8],"format":".1f","title":"Test Accuracy"}},
    "color":{"field":"s","type":"nominal","scale":{"domain":["L","F","S"],"range":["#008000","#ff0000","#0000ff"]},"legend":{"title":null,"symbolType":"stroke","labelExpr":"datum.label == 'L' ? 'Local-Only' : datum.label == 'F' ? 'FedAvg' : 'SecureD-FL'"}}
   },
   "layer":[
    {"transform":[{"filter":"datum.s == 'L'"}],"mark":{"type":"line","strokeWidth":1.1,"clip":true,"point":{"shape":"circle","size":4,"filled":true}}},
    {"transform":[{"filter":"datum.s == 'F'"}],"mark":{"type":"line","strokeWidth":1.8,"opacity":0.6,"clip":true,"point":{"shape":"M-1,-1L1,1M1,-1L-1,1","size":8,"filled":false,"strokeWidth":0.8}}},
    {"transform":[{"filter":"datum.s == 'S'"}],"mark":{"type":"line","strokeWidth":1,"clip":true,"point":{"shape":"M-1,0L1,0M0,-1L0,1","size":8,"filled":false,"strokeWidth":0.8}}}
   ]}
  ]}
 ]},
{"spacing":16,
 "resolve":{"scale":{"color":"independent"},"legend":{"color":"independent"}},
 "hconcat":[
 {"data":{"name":"d"},"width":175,"height":130,"title":{"text":"(d) FEMNIST (15 peers)","offset":13},
  "encoding":{
   "x":{"field":"x","type":"quantitative","scale":{"domain":[-1.45,52.45],"nice":false,"zero":false},"axis":{"values":[0,10,20,30,40,50],"title":"FL Round"}},
   "y":{"field":"y","type":"quantitative","scale":{"domain":[0.943,1],"nice":false,"zero":false},"axis":{"values":[0.95,0.96,0.97,0.98,0.99,1],"format":".2f","title":"Test Accuracy"}},
   "color":{"field":"s","type":"nominal","scale":{"domain":["L","F","S"],"range":["#008000","#ff0000","#0000ff"]},"legend":{"title":null,"symbolType":"stroke","labelExpr":"datum.label == 'L' ? 'Local-Only' : datum.label == 'F' ? 'FedAvg' : 'SecureD-FL'"}}
  },
  "layer":[
   {"transform":[{"filter":"datum.s == 'L'"}],"mark":{"type":"line","strokeWidth":1.1,"clip":true,"point":{"shape":"circle","size":4,"filled":true}}},
   {"transform":[{"filter":"datum.s == 'F'"}],"mark":{"type":"line","strokeWidth":1.8,"opacity":0.6,"clip":true,"point":{"shape":"M-1,-1L1,1M1,-1L-1,1","size":8,"filled":false,"strokeWidth":0.8}}},
   {"transform":[{"filter":"datum.s == 'S'"}],"mark":{"type":"line","strokeWidth":1,"clip":true,"point":{"shape":"M-1,0L1,0M0,-1L0,1","size":8,"filled":false,"strokeWidth":0.8}}}
  ]},
 {"spacing":10,
  "resolve":{"scale":{"color":"independent"},"legend":{"color":"independent"}},
  "hconcat":[
  {"data":{"name":"e"},"width":176,"height":130,"title":{"text":"(e) Shakespeare (15 peers)","offset":13},
   "encoding":{
    "x":{"field":"x","type":"quantitative","scale":{"domain":[-1.45,52.45],"nice":false,"zero":false},"axis":{"values":[0,10,20,30,40,50],"title":"FL Round"}},
    "y":{"field":"y","type":"quantitative","scale":{"domain":[0.3,0.55],"nice":false,"zero":false},"axis":{"values":[0.3,0.35,0.4,0.45,0.5,0.55],"format":".2f","title":"Test Accuracy"}},
    "color":{"field":"s","type":"nominal","scale":{"domain":["L","F","S"],"range":["#008000","#ff0000","#0000ff"]},"legend":{"title":null,"symbolType":"stroke","labelExpr":"datum.label == 'L' ? 'Local-Only' : datum.label == 'F' ? 'FedAvg' : 'SecureD-FL'"}}
   },
   "layer":[
    {"transform":[{"filter":"datum.s == 'L'"}],"mark":{"type":"line","strokeWidth":1.1,"clip":true,"point":{"shape":"circle","size":4,"filled":true}}},
    {"transform":[{"filter":"datum.s == 'F'"}],"mark":{"type":"line","strokeWidth":1.8,"opacity":0.6,"clip":true,"point":{"shape":"M-1,-1L1,1M1,-1L-1,1","size":8,"filled":false,"strokeWidth":0.8}}},
    {"transform":[{"filter":"datum.s == 'S'"}],"mark":{"type":"line","strokeWidth":1,"clip":true,"point":{"shape":"M-1,0L1,0M0,-1L0,1","size":8,"filled":false,"strokeWidth":0.8}}}
   ]},
  {"data":{"name":"f"},"width":181,"height":130,"title":{"text":"(f) CIFAR-10 (15 peers)","offset":13},
   "encoding":{
    "x":{"field":"x","type":"quantitative","scale":{"domain":[-1.45,52.45],"nice":false,"zero":false},"axis":{"values":[0,10,20,30,40,50],"title":"FL Round"}},
    "y":{"field":"y","type":"quantitative","scale":{"domain":[0.14,0.8],"nice":false,"zero":false},"axis":{"values":[0.2,0.3,0.4,0.5,0.6,0.7,0.8],"format":".1f","title":"Test Accuracy"}},
    "color":{"field":"s","type":"nominal","scale":{"domain":["L","F","S"],"range":["#008000","#ff0000","#0000ff"]},"legend":{"title":null,"symbolType":"stroke","labelExpr":"datum.label == 'L' ? 'Local-Only' : datum.label == 'F' ? 'FedAvg' : 'SecureD-FL'"}}
   },
   "layer":[
    {"transform":[{"filter":"datum.s == 'L'"}],"mark":{"type":"line","strokeWidth":1.1,"clip":true,"point":{"shape":"circle","size":4,"filled":true}}},
    {"transform":[{"filter":"datum.s == 'F'"}],"mark":{"type":"line","strokeWidth":1.8,"opacity":0.6,"clip":true,"point":{"shape":"M-1,-1L1,1M1,-1L-1,1","size":8,"filled":false,"strokeWidth":0.8}}},
    {"transform":[{"filter":"datum.s == 'S'"}],"mark":{"type":"line","strokeWidth":1,"clip":true,"point":{"shape":"M-1,0L1,0M0,-1L0,1","size":8,"filled":false,"strokeWidth":0.8}}}
   ]}
  ]}
 ]}
]
}
